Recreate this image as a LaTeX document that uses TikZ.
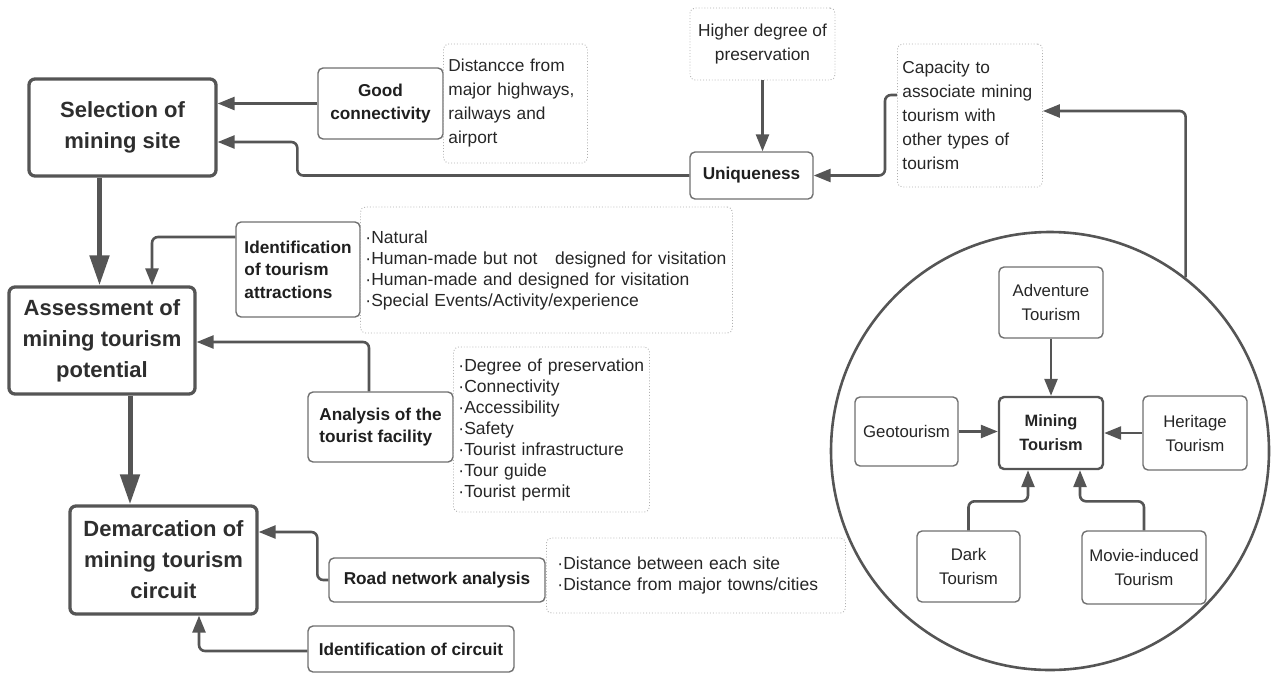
\documentclass[tikz,border=0pt]{standalone}
\usepackage{fontspec}
\setmainfont{Liberation Sans}
\usetikzlibrary{arrows.meta}
\definecolor{ink}{HTML}{555555}
\definecolor{txt}{HTML}{2E2E2E}
\definecolor{edge}{HTML}{707070}
\definecolor{dots}{HTML}{B0B0B0}

\begin{document}
\begin{tikzpicture}[x=1pt,y=-1pt,
  mainbox/.style={draw=ink, line width=3.3pt, rounded corners=6pt, fill=white,
    text=txt, align=center, inner sep=0pt,
    font=\bfseries\fontsize{22}{31}\selectfont},
  subbox/.style={draw=edge, line width=1.4pt, rounded corners=5pt, fill=white,
    text=black!88, inner sep=0pt, font=\bfseries\fontsize{17.2}{22.5}\selectfont},
  notebox/.style={draw=dots, dotted, line width=0.9pt, rounded corners=5pt,
    text=black!85, align=left, inner xsep=5pt, inner ysep=0pt, anchor=west,
    font=\fontsize{17.5}{21}\selectfont},
  noteplain/.style={draw=dots, dotted, line width=0.9pt, rounded corners=5pt,
    text=black!85, align=center, inner sep=0pt,
    font=\fontsize{17.3}{24.5}\selectfont},
  typebox/.style={draw=edge, line width=1.4pt, rounded corners=5pt, fill=white,
    text=black!85, align=center, inner sep=0pt,
    font=\fontsize{16.8}{24}\selectfont},
  conn/.style={draw=ink, line width=2.6pt, rounded corners=6pt,
    -{Triangle[length=17pt,width=13pt]}},
  thickconn/.style={draw=ink, line width=5pt,
    -{Triangle[length=30pt,width=19pt]}},
]
\useasboundingbox (0,0) rectangle (1271,675);

% ---------- main process column ----------
\node[mainbox, minimum width=187pt, minimum height=97pt] (sel) at (122.5,127.5)
  {Selection of\\mining site};
\node[mainbox, minimum width=186pt, minimum height=107pt] (assess) at (102,340.5)
  {Assessment of\\mining tourism\\potential};
\node[mainbox, minimum width=187pt, minimum height=108pt] (dem) at (163.5,560)
  {Demarcation of\\mining tourism\\circuit};

% ---------- site selection criteria ----------
\node[subbox, align=center, minimum width=125pt, minimum height=71pt] (good) at (380.5,103.5)
  {Good\\connectivity};
\node[notebox, text width=134pt, minimum height=119pt, font=\fontsize{17.3}{24}\selectfont] (dist) at (443,103.5)
  {Distancce from\\major highways,\\railways and\\airport};
\node[noteplain, minimum width=145pt, minimum height=72pt] (higher) at (762.5,44)
  {Higher degree of\\preservation};
\node[subbox, minimum width=123pt, minimum height=47pt] (uniq) at (751.5,175.5)
  {Uniqueness};
\node[notebox, text width=135pt, minimum height=143pt, font=\fontsize{17.3}{24}\selectfont] (cap) at (897,115.5)
  {Capacity to\\associate mining\\tourism with\\other types of\\tourism};

% ---------- potential assessment ----------
\node[subbox, align=left, minimum width=124pt, minimum height=95pt] (identA) at (298,269.5)
  {Identification\\of tourism\\attractions};
\node[notebox, text width=362pt, minimum height=126pt] (listA) at (360,270)
  {·Natural\\·Human-made but not\ \ \ designed for visitation\\·Human-made and designed for visitation\\·Special Events/Activity/experience};
\node[subbox, align=left, minimum width=145pt, minimum height=70pt] (anal) at (380.5,427)
  {Analysis of the\\tourist facility};
\node[notebox, text width=186pt, minimum height=165pt] (listB) at (453,429.5)
  {·Degree of preservation\\·Connectivity\\·Accessibility\\·Safety\\·Tourist infrastructure\\·Tour guide\\·Tourist permit};

% ---------- circuit demarcation ----------
\node[subbox, minimum width=216pt, minimum height=44pt] (road) at (437,580)
  {Road network analysis};
\node[notebox, inner xsep=11pt, text width=277pt, minimum height=75pt] (listC) at (546,575.5)
  {·Distance between each site\\·Distance from major towns/cities};
\node[subbox, minimum width=206pt, minimum height=46pt] (identC) at (411,649)
  {Identification of circuit};

% ---------- tourism types ----------
\node[draw=ink, line width=2.6pt, circle, minimum size=438pt, inner sep=0pt] (ring) at (1050,451) {};
\node[typebox, minimum width=104pt, minimum height=71pt] (adv) at (1051,302.5)
  {Adventure\\Tourism};
\node[typebox, draw=ink, line width=2.4pt, font=\bfseries\fontsize{16.4}{24}\selectfont,
  minimum width=104pt, minimum height=72pt] (mining) at (1051,433)
  {Mining\\Tourism};
\node[typebox, minimum width=103pt, minimum height=69pt] (geo) at (906.5,431.5)
  {Geotourism};
\node[typebox, minimum width=104pt, minimum height=74pt] (her) at (1195,433)
  {Heritage\\Tourism};
\node[typebox, minimum width=103pt, minimum height=71pt] (dark) at (968.5,566.5)
  {Dark\\Tourism};
\node[typebox, minimum width=124pt, minimum height=73pt] (movie) at (1144,567.5)
  {Movie-induced\\Tourism};

% ---------- connectors ----------
\draw[thickconn] ([xshift=-23pt]sel.south) -- ([xshift=-23pt]sel.south |- assess.north);
\draw[thickconn] ([xshift=28pt]assess.south) -- ([xshift=28pt]assess.south |- dem.north);

\draw[conn] (good.west) -- (good.west -| sel.east);
\draw[conn] (uniq.west) -- ++(-392,0) |- ([yshift=-14.5pt]sel.east);
\draw[conn] (higher.south) -- (higher.south |- uniq.north);
\draw[conn] ([yshift=20.5pt]cap.west) -- ++(-12,0) |- (uniq.east);
\draw[conn] (ring.52.6) |- ([yshift=4.5pt]cap.east);

\draw[conn] ([yshift=32.5pt]identA.west) -| ([xshift=50pt]assess.north);
\draw[conn] ([xshift=-11.5pt]anal.north) |- ([yshift=-1.5pt]assess.east);

\draw[conn] (road.west) -- ++(-11,0) |- ([yshift=28pt]dem.east);
\draw[conn] ([yshift=-2pt]identC.west) -| ([xshift=35.5pt]dem.south);

\draw[conn] (adv.south) -- (mining.north);
\draw[conn] (geo.east) -- (geo.east -| mining.west);
\draw[conn] (her.west) -- (her.west -| mining.east);
\draw[conn] (dark.north) -- ++(0,-29) -| ([xshift=-23pt]mining.south);
\draw[conn] (movie.north) -- ++(0,-29) -| ([xshift=29pt]mining.south);
\end{tikzpicture}
\end{document}
